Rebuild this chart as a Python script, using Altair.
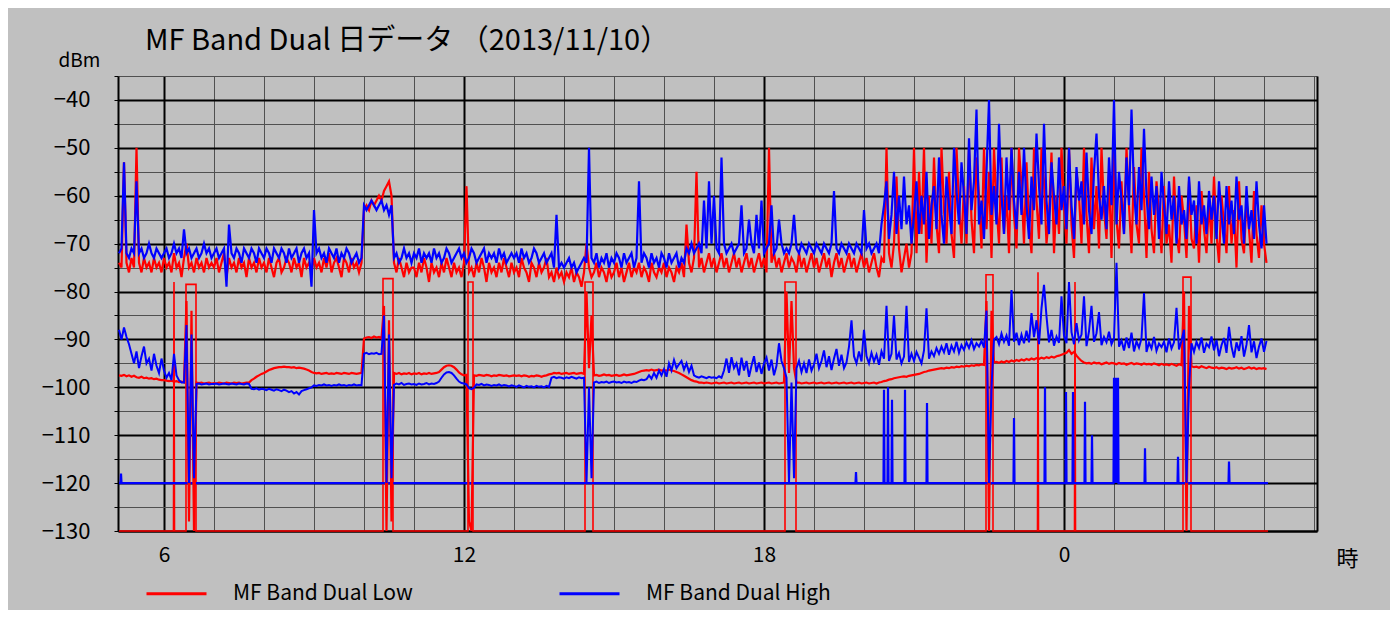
import altair as alt
import pandas as pd

LOW = "MF Band Dual Low"
HIGH = "MF Band Dual High"

# upper traces, one row per hour (row 0 starts at 5:06, then every 3 minutes)
low_upper = [
    [-74,-75,-53,-74,-76,-73,-75,-50,-74,-76,-73,-75,-74,-76,-73,-75,-74,-76],
    [-73,-75,-74,-76,-72,-75,-74,-77,-73,-70,-75,-74,-76,-73,-75,-74,-76,-73,-75,-74],
    [-75,-73,-76,-74,-72,-77,-73,-75,-74,-76,-73,-75,-74,-77,-73,-75,-74,-76,-73,-75],
    [-74,-76,-73,-75,-77,-74,-73,-76,-75,-73,-74,-76,-73,-75,-74,-77,-73,-75,-74,-76],
    [-73,-75,-74,-76,-73,-75,-72,-76,-74,-73,-75,-77,-73,-74,-76,-73,-75,-74,-76,-74],
    [-63,-62,-63,-61,-62,-61,-60,-61,-59,-58,-57,-60,-74,-76,-73,-75,-77,-74,-76,-75],
    [-75,-77,-74,-76,-73,-75,-78,-74,-76,-75,-77,-74,-76,-73,-75,-77,-74,-76,-75,-77],
    [-74,-58,-76,-75,-77,-74,-76,-73,-75,-78,-74,-76,-75,-77,-74,-76,-73,-75,-77,-74],
    [-76,-75,-77,-73,-75,-76,-78,-74,-75,-77,-74,-76,-75,-73,-77,-76,-78,-75,-77,-76],
    [-78,-76,-77,-75,-78,-76,-77,-79,-76,-70,-75,-77,-76,-74,-77,-75,-76,-78,-75,-77],
    [-76,-74,-77,-75,-78,-76,-74,-77,-75,-76,-74,-77,-75,-76,-78,-74,-76,-77,-75,-76],
    [-74,-77,-75,-76,-78,-75,-76,-74,-77,-66,-74,-76,-73,-55,-75,-73,-76,-74,-72,-75],
    [-73,-76,-74,-72,-75,-73,-76,-74,-72,-75,-73,-76,-74,-72,-75,-73,-76,-74,-72,-75],
    [-73,-76,-50,-74,-72,-75,-73,-76,-74,-72,-75,-73,-74,-76,-72,-75,-73,-76,-74,-72],
    [-75,-73,-76,-74,-72,-75,-73,-77,-74,-72,-75,-73,-76,-74,-72,-75,-73,-76,-74,-72],
    [-75,-73,-76,-74,-72,-75,-77,-73,-74,-50,-72,-75,-70,-56,-71,-76,-73,-70,-75,-72],
    [-50,-72,-55,-68,-50,-74,-60,-70,-52,-66,-72,-50,-63,-70,-55,-68,-73,-50,-62,-70],
    [-58,-70,-50,-65,-72,-52,-60,-71,-50,-67,-55,-73,-50,-62,-70,-52,-68,-60,-72,-50],
    [-64,-71,-50,-58,-70,-53,-66,-72,-50,-61,-69,-50,-57,-70,-64,-51,-72,-60,-68,-50],
    [-62,-70,-50,-66,-73,-55,-60,-70,-50,-64,-72,-52,-67,-58,-71,-50,-63,-69,-55,-73],
    [-50,-65,-71,-57,-68,-50,-62,-72,-54,-66,-70,-50,-60,-73,-55,-67,-72,-57,-64,-72],
    [-58,-70,-66,-74,-56,-68,-72,-60,-65,-73,-57,-69,-71,-62,-74,-59,-67,-72,-61,-70],
    [-56,-68,-74,-60,-66,-72,-58,-70,-63,-75,-57,-69,-72,-61,-67,-74,-59,-68,-73,-62],
    [-70,-74],
]

high_upper = [
    [-72,-71,-53,-72,-73,-71,-72,-57,-72,-71,-73,-72,-70,-72,-73,-71,-72,-73],
    [-72,-71,-73,-72,-70,-72,-71,-73,-67,-72,-71,-73,-72,-71,-73,-72,-70,-72,-71,-73],
    [-72,-71,-73,-72,-71,-79,-66,-72,-73,-71,-72,-74,-71,-72,-73,-71,-72,-74,-71,-72],
    [-73,-71,-72,-74,-71,-72,-73,-71,-72,-74,-71,-73,-72,-71,-74,-72,-71,-73,-72,-79],
    [-63,-72,-71,-73,-72,-74,-71,-72,-73,-71,-74,-72,-73,-71,-72,-74,-73,-72,-74,-73],
    [-62,-63,-62,-61,-62,-63,-62,-61,-63,-62,-64,-62,-73,-72,-74,-73,-71,-73,-72,-74],
    [-72,-73,-71,-74,-72,-73,-72,-74,-71,-73,-72,-74,-73,-71,-72,-74,-73,-72,-71,-73],
    [-72,-74,-73,-71,-72,-74,-73,-72,-71,-74,-72,-73,-72,-74,-71,-73,-72,-74,-73,-72],
    [-73,-72,-74,-71,-73,-72,-74,-73,-71,-72,-74,-73,-72,-74,-73,-72,-75,-64,-75,-74],
    [-75,-74,-73,-75,-74,-76,-75,-74,-73,-74,-50,-73,-74,-72,-75,-73,-74,-72,-75,-73],
    [-74,-72,-73,-75,-72,-74,-73,-72,-75,-73,-57,-74,-72,-73,-75,-72,-74,-73,-75,-72],
    [-73,-75,-72,-74,-73,-72,-75,-73,-74,-71,-72,-70,-72,-71,-70,-72,-61,-71,-57,-70],
    [-60,-71,-72,-52,-70,-72,-71,-70,-72,-71,-70,-62,-72,-71,-65,-70,-72,-64,-71,-61],
    [-72,-71,-70,-62,-72,-71,-65,-70,-72,-71,-72,-70,-64,-71,-72,-70,-71,-72,-70,-71],
    [-72,-70,-71,-72,-70,-71,-72,-70,-59,-71,-72,-70,-71,-72,-70,-71,-72,-70,-71,-72],
    [-63,-71,-70,-72,-71,-70,-72,-66,-62,-57,-69,-64,-55,-68,-60,-67,-56,-66,-62,-70],
    [-64,-57,-68,-60,-66,-55,-69,-62,-58,-67,-52,-64,-70,-56,-62,-68,-50,-59,-66,-53],
    [-60,-68,-48,-63,-57,-42,-66,-61,-69,-55,-40,-64,-58,-66,-45,-60,-68,-52,-63,-50],
    [-61,-67,-55,-64,-50,-62,-69,-56,-63,-47,-58,-66,-45,-61,-68,-53,-60,-66,-52,-63],
    [-58,-67,-50,-62,-69,-54,-61,-57,-66,-51,-63,-68,-55,-47,-60,-65,-58,-67,-52,-62],
    [-40,-66,-55,-61,-68,-52,-62,-42,-59,-66,-54,-63,-46,-60,-67,-56,-64,-58,-69,-55],
    [-62,-68,-57,-65,-60,-70,-58,-66,-63,-69,-56,-64,-61,-70,-57,-66,-62,-68,-59,-65],
    [-60,-69,-57,-64,-70,-58,-66,-61,-68,-56,-65,-62,-70,-58,-67,-63,-69,-57,-66,-71],
    [-62,-70],
]

low_middle = [
    [-97.5,-97.6,-97.4,-97.7,-97.5,-97.8,-97.6,-97.9,-98,-97.8,-98.1,-98,-98.2,-98.1,-98.3,-98.2,-98.4,-98.5],
    [-98.5,-98.6,-98.7,-98.6,-98.8,-98.7,-98.9,-98.8,-99,-82,-128,-84,-130,-99,-99.1,-99,-99.2,-99.1,-99,-99.2],
    [-99.1,-99.2,-99,-99.1,-99.2,-99,-99.1,-99.2,-99,-99.1,-99,-99.2,-99.1,-99,-99,-98.5,-98.2,-97.8,-97.5,-97.2],
    [-97,-96.7,-96.4,-96.2,-96,-95.9,-95.8,-95.8,-95.7,-95.8,-95.8,-95.9,-95.8,-96,-95.9,-96,-96.1,-96.3,-96.5,-96.8],
    [-97,-97.1,-97,-97.2,-97.1,-97,-97.2,-97.1,-97.2,-97,-97.1,-97.2,-97,-97.1,-97.2,-97,-97.1,-97.2,-97.1,-97],
    [-89.8,-89.6,-89.5,-89.7,-89.4,-89.6,-89.5,-89.8,-83,-130,-86,-128,-97,-97.2,-97,-97.3,-97.1,-97.2,-97,-97.3],
    [-97.1,-97.2,-97,-97.3,-97.1,-97.2,-97,-97.2,-97.1,-97,-96.8,-96.3,-95.8,-95.5,-95.4,-95.5,-95.8,-96.3,-96.9,-97.3],
    [-97.5,-97.4,-128,-130,-97.5,-97.6,-97.4,-97.5,-97.6,-97.4,-97.5,-97.7,-97.5,-97.6,-97.4,-97.5,-97.6,-97.5,-97.7,-97.6],
    [-97.5,-97.6,-97.5,-97.7,-97.5,-97.6,-97.8,-97.6,-97.7,-97.5,-97.6,-97.8,-97.6,-97.5,-97.3,-97.2,-97,-97.1,-97,-97.2],
    [-97.1,-97,-97.2,-97.1,-97,-97.2,-97.1,-97,-97.2,-80,-96,-85,-97.5,-97.4,-97.6,-97.5,-97.3,-97.5,-97.4,-97.6],
    [-97.5,-97.4,-97.6,-97.5,-97.3,-97.5,-97.4,-97.3,-97.2,-97,-96.8,-96.6,-96.5,-96.4,-96.5,-96.3,-96.5,-96.4,-96.3,-96.5],
    [-96.4,-96.5,-96.3,-96.5,-96.6,-96.8,-97,-97.3,-97.6,-97.9,-98.2,-98.5,-98.7,-98.8,-99,-99,-99.1,-99,-99.1,-99.2],
    [-99.1,-99,-99.2,-99.1,-99,-99.2,-99.1,-99,-99.2,-99.1,-99,-99.2,-99.1,-99,-99.2,-99.1,-99,-99.2,-99.1,-99],
    [-99.2,-99.1,-99,-99.2,-99.1,-99,-99.2,-99.1,-99,-80,-97,-82,-96,-99.1,-99,-99.2,-99.1,-99,-99.2,-99.1],
    [-99,-99.2,-99.1,-99,-99.2,-99.1,-99,-99.2,-99.1,-99,-99.2,-99.1,-99,-99.2,-99.1,-99,-99.2,-99.1,-99,-99.2],
    [-99.1,-99,-99.2,-99.1,-99,-99.2,-99,-98.9,-98.7,-98.6,-98.4,-98.3,-98.1,-98,-97.9,-97.8,-97.7,-97.8,-97.6,-97.5],
    [-97.4,-97.3,-97.2,-97,-96.8,-96.7,-96.5,-96.4,-96.3,-96.2,-96.1,-96,-96.1,-95.9,-96,-95.8,-95.9,-95.7,-95.8,-95.6],
    [-95.7,-95.5,-95.6,-95.4,-95.5,-95.3,-95.4,-95.2,-95.3,-82,-130,-84,-94.8,-94.7,-94.9,-94.6,-94.8,-94.5,-94.7,-94.4],
    [-94.6,-94.3,-94.5,-94.2,-94.4,-94.1,-94.3,-94,-94.2,-93.9,-94.1,-93.8,-94,-93.7,-93.9,-93.6,-93.8,-93.5,-93.4,-93.2],
    [-93,-92.8,-92.2,-93,-92.6,-93.4,-94,-94.5,-94.8,-95,-94.9,-95.1,-94.8,-95,-94.9,-95.2,-95,-94.8,-95.1,-94.9],
    [-95,-95.2,-94.9,-95.1,-95,-95.3,-95.1,-94.9,-95.2,-95,-95.1,-95.3,-95,-95.2,-95.1,-95.3,-95,-95.2,-95.4,-95.1],
    [-95.3,-95.2,-95.4,-95.1,-95.3,-95.5,-95.2,-95.4,-80,-130,-83,-95.6,-95.8,-95.7,-95.9,-95.6,-95.8,-96,-95.7,-95.9],
    [-96,-95.8,-96.1,-95.9,-96,-96.2,-95.9,-96.1,-96,-95.8,-96.1,-95.9,-96.2,-96,-95.8,-96.1,-95.9,-96.2,-96,-96.1],
    [-96,-96.2],
]

high_middle = [
    [-88,-90,-87.5,-89.5,-91,-93,-95,-92.5,-96,-93.5,-91.5,-95,-94,-96.5,-93,-95.5,-97,-94],
    [-96.5,-98,-97,-98.5,-93,-97.5,-98.5,-99,-99,-87,-120,-89,-119,-99.3,-99.2,-99.4,-99.3,-99.2,-99.4,-99.3],
    [-99.3,-99.2,-99.4,-99.3,-99.2,-99.3,-99.4,-99.2,-99.3,-99.4,-99.2,-99.3,-99.4,-99.2,-99.3,-100.3,-100.4,-100.2,-100.5,-100.3],
    [-100.4,-100.6,-100.3,-100.5,-100.7,-100.4,-100.6,-100.8,-100.5,-100.7,-101,-100.8,-101.3,-101,-101.5,-100.8,-100.6,-100.4,-100.2,-100],
    [-99.6,-99.7,-99.5,-99.6,-99.4,-99.6,-99.5,-99.7,-99.5,-99.6,-99.4,-99.6,-99.5,-99.7,-99.5,-99.6,-99.4,-99.6,-99.5,-99.6],
    [-93,-92.8,-93.1,-92.9,-93,-92.8,-93.1,-93,-85,-120,-89,-119,-99.5,-99.2,-99.4,-99.1,-99.5,-99.3,-99.2,-99.4],
    [-99.3,-99.5,-99.2,-99.4,-99.3,-99.1,-99.4,-99.2,-99.3,-99.1,-98.8,-98,-97.3,-96.9,-96.8,-97,-97.5,-98.2,-98.8,-99.1],
    [-99.2,-99.4,-100.2,-100.4,-100.1,-99.4,-99.5,-99.3,-99.6,-99.4,-99.5,-99.7,-99.5,-99.6,-99.4,-99.7,-99.5,-99.6,-99.8,-99.6],
    [-99.7,-99.9,-99.6,-99.8,-100,-99.7,-99.9,-99.8,-100,-99.7,-99.9,-99.8,-100,-99.7,-99.9,-98,-97.8,-98.1,-97.9,-98],
    [-98.2,-97.9,-98.1,-97.8,-98,-98.2,-97.9,-98.1,-98,-120,-100,-119,-99,-98.8,-99.1,-98.9,-99,-98.8,-99.1,-98.9],
    [-98.8,-99,-98.9,-99.1,-98.8,-99,-98.9,-99.1,-98.8,-98.9,-98.6,-98.4,-98.5,-98.3,-97.5,-98.2,-97,-98,-96.5,-97.5],
    [-96.2,-97.8,-95,-96.5,-94.3,-96,-95.2,-94.5,-96.3,-95,-96.8,-95.5,-97.5,-97.8,-98,-97.7,-97.9,-98.1,-97.8,-98],
    [-97.9,-98.1,-97.7,-98,-96.5,-94,-97,-93.7,-96,-95,-97.5,-93.8,-96.5,-94.5,-97.8,-95.5,-93.5,-96.8,-94.8,-97.2],
    [-95,-93.8,-96.5,-94.2,-97.5,-95.5,-90.8,-94.5,-96,-98,-120,-99,-119,-96,-94.5,-96.8,-95,-97,-94.2,-96.5],
    [-95.2,-93,-96,-94.5,-92.3,-95.8,-93.5,-96.4,-94,-92,-95.5,-93.2,-96,-94.8,-91.5,-86,-93.5,-95,-92.5,-94.6],
    [-88,-93.5,-95,-92.8,-94.6,-93.2,-95.3,-92.5,-94,-83,-94.5,-93,-85,-94.2,-92.8,-95,-93.6,-83,-94.7,-93],
    [-94.5,-92.6,-93.8,-95,-92.3,-83.5,-94,-92.5,-93.5,-91.8,-93,-91.5,-92.7,-90.8,-93.2,-91.3,-92.5,-90.5,-92.8,-91.2],
    [-92.2,-90.6,-91.8,-90.2,-92,-90.8,-91.5,-90.3,-91.7,-84,-120,-100,-90,-89.5,-91,-88.8,-90.5,-89.2,-91.3,-79.7],
    [-90.5,-88.6,-91.2,-89,-90.8,-88.2,-90.6,-84.5,-89.5,-86,-91,-83.5,-78.6,-85.2,-90.6,-88,-91.3,-89.4,-90.7,-81],
    [-89.2,-90.8,-78,-88.5,-91,-86.6,-90.2,-89,-81,-91.4,-88.3,-83,-90.5,-88.7,-84.3,-91.2,-89.5,-90.6,-88.4,-91],
    [-89.8,-74,-91.5,-90.2,-92.3,-89.6,-91.8,-88.6,-92.5,-90.4,-91.7,-89.8,-80.3,-92.6,-90.7,-91.9,-89.5,-92.4,-90.9,-91.6],
    [-90.5,-92.7,-89.8,-91.9,-90.6,-83.4,-92.1,-90.3,-88,-120,-100,-90.8,-92.6,-90.5,-91.8,-89.6,-92.8,-90.9,-91.6,-89.4],
    [-92.3,-90.1,-93.5,-91.2,-89.7,-92.8,-87.4,-91.5,-93.8,-90.6,-92.4,-89.3,-93.6,-91.1,-87,-92.7,-90.4,-93.9,-91.5,-89.8],
    [-92.6,-90.3],
]

# floor traces: explicit (hour, dBm) points
low_floor_t = [5.10, 6.19, 6.20, 6.21, 6.44, 6.44, 6.64, 6.64, 10.38, 10.38, 10.58, 10.58,
               12.08, 12.08, 12.18, 12.18, 14.42, 14.42, 14.58, 14.58, 18.42, 18.42, 18.64, 18.64,
               22.44, 22.44, 22.58, 22.58, 23.47, 23.48, 23.49, 24.21, 24.22, 24.23,
               26.38, 26.38, 26.54, 26.54, 28.08]
low_floor_v = [-130, -130, -78, -130, -130, -78.5, -78.5, -130, -130, -77.3, -77.3, -130,
               -130, -78, -78, -130, -130, -78, -78, -130, -130, -78, -78, -130,
               -130, -76.5, -76.5, -130, -130, -76, -130, -130, -78, -130,
               -130, -77, -77, -130, -130]
high_floor_t = [5.10, 5.13, 5.14, 5.15, 19.83, 19.84, 19.85, 20.39, 20.40, 20.41, 20.47, 20.48, 20.49,
                20.55, 20.56, 20.57, 20.81, 20.82, 20.83, 21.25, 21.26, 21.27, 22.99, 23.00, 23.01,
                23.61, 23.62, 23.63, 24.03, 24.04, 24.05, 24.17, 24.18, 24.19, 24.41, 24.42, 24.43,
                24.55, 24.56, 24.57, 24.99, 25.00, 25.02, 25.04, 25.06, 25.08, 25.09,
                25.61, 25.62, 25.63, 26.27, 26.28, 26.29, 27.29, 27.30, 27.31, 28.08]
high_floor_v = [-120, -120, -118, -120, -120, -117.7, -120, -120, -100.5, -120, -120, -100, -120,
                -120, -102.6, -120, -120, -100.5, -120, -120, -103.3, -120, -120, -106.4, -120,
                -120, -100, -120, -120, -101, -120, -120, -101, -120, -120, -103, -120,
                -120, -110, -120, -120, -98, -120, -98, -120, -98, -120,
                -120, -112.7, -120, -120, -114.5, -120, -120, -115.5, -120, -120]

y_ticks = list(range(-130, -34, 5))
x_ticks = list(range(6, 30))


def hourly(rows):
    ts, vs = [], []
    for r, row in enumerate(rows):
        h0 = 5.10 if r == 0 else 5 + r
        for k, v in enumerate(row):
            ts.append(round(h0 + 0.05 * k, 3))
            vs.append(v)
    return ts, vs


records = []
def add(trace, series, ts, vs):
    for k, (t, v) in enumerate(zip(ts, vs)):
        records.append({"t": t, "v": v, "series": series, "trace": trace, "k": k})

add("lf", LOW, low_floor_t, low_floor_v)
add("hf", HIGH, high_floor_t, high_floor_v)
add("lm", LOW, *hourly(low_middle))
add("hm", HIGH, *hourly(high_middle))
add("lu", LOW, *hourly(low_upper))
add("hu", HIGH, *hourly(high_upper))
df = pd.DataFrame(records)

FONT = "Noto Sans CJK JP"

x_enc = alt.X(
    "t:Q",
    scale=alt.Scale(domain=[5.08, 29.06], nice=False, zero=False),
    axis=alt.Axis(
        values=x_ticks,
        labelExpr="datum.value % 6 === 0 ? '' + (datum.value % 24) : ''",
        grid=True,
        gridColor={"condition": {"test": "datum.value % 6 === 0", "value": "#000000"}, "value": "#505050"},
        gridWidth={"condition": {"test": "datum.value % 6 === 0", "value": 2}, "value": 1},
        ticks=False,
        domainColor="#000000",
        domainWidth=2,
        labelFontSize=21,
        labelFont=FONT,
        labelColor="#000000",
        labelPadding=13,
        labelOverlap=False,
        labelFlush=False,
        title="時",
        titleFont=FONT,
        titleFontSize=22,
        titleFontWeight="normal",
        titleColor="#000000",
        titleAngle=0,
        titleAlign="center",
        titleBaseline="middle",
        titleX=1229,
        titleY=27,
    ),
)

y_scale = alt.Scale(domain=[-130, -35], nice=False, zero=False)
y_enc = alt.Y(
    "v:Q",
    scale=y_scale,
    axis=alt.Axis(
        values=y_ticks,
        labelExpr="datum.value % 10 === 0 ? datum.label : ''",
        grid=True,
        gridColor={"condition": {"test": "datum.value % 10 === 0", "value": "#000000"}, "value": "#505050"},
        gridWidth={"condition": {"test": "datum.value % 10 === 0", "value": 2}, "value": 1},
        ticks=True,
        tickSize=4,
        tickColor="#000000",
        domainColor="#000000",
        domainWidth=2,
        labelFontSize=22,
        labelFont=FONT,
        labelColor="#000000",
        labelPadding=24,
        labelOverlap=False,
        labelFlush=False,
        title="dBm",
        titleFont=FONT,
        titleFontSize=19,
        titleFontWeight="normal",
        titleColor="#000000",
        titleAngle=0,
        titleAlign="center",
        titleBaseline="alphabetic",
        titleX=-39,
        titleY=-10,
    ),
)

color_enc = alt.Color(
    "series:N",
    scale=alt.Scale(domain=[LOW, HIGH], range=["#ff0000", "#0000ff"]),
    legend=alt.Legend(
        orient="none",
        legendX=27,
        legendY=486,
        direction="horizontal",
        title=None,
        symbolType="stroke",
        symbolSize=3600,
        symbolStrokeWidth=3,
        labelFont=FONT,
        labelFontSize=21,
        labelColor="#000000",
        labelOffset=25,
        labelLimit=400,
        columnPadding=140,
        padding=0,
    ),
)


def trace_layer(trace, width):
    return (
        alt.Chart(df)
        .transform_filter(alt.datum.trace == trace)
        .mark_line(strokeWidth=width)
        .encode(x=x_enc, y=y_enc, color=color_enc, detail="trace:N", order="k:Q")
    )


main = alt.layer(
    trace_layer("lf", 1.6),
    trace_layer("hf", 2.2),
    trace_layer("lm", 2.2),
    trace_layer("hm", 2.0),
    trace_layer("lu", 2.2),
    trace_layer("hu", 2.2),
)

right_border = (
    alt.Chart(df)
    .transform_filter(alt.datum.trace == "hf")
    .mark_line(strokeOpacity=0)
    .encode(
        x=x_enc,
        y=alt.Y(
            "v:Q",
            scale=y_scale,
            axis=alt.Axis(orient="right", labels=False, ticks=False, grid=False,
                          domainColor="#000000", domainWidth=2, title=None),
        ),
        order="k:Q",
    )
)

chart = (
    alt.layer(main, right_border)
    .resolve_axis(y="independent")
    .properties(
        width=1199,
        height=455,
        title=alt.TitleParams(
            "MF Band Dual 日データ （2013/11/10）",
            anchor="start",
            frame="group",
            font=FONT,
            fontSize=29,
            fontWeight="normal",
            color="#000000",
            dx=27,
            dy=15,
            offset=10,
        ),
        autosize=alt.AutoSizeParams(type="none"),
        padding={"left": 110, "top": 68, "right": 73, "bottom": 79},
        background="#c0c0c0",
    )
    .configure_view(stroke=None)
)

chart.save("out.html", embed_options={"renderer": "svg", "actions": False})
